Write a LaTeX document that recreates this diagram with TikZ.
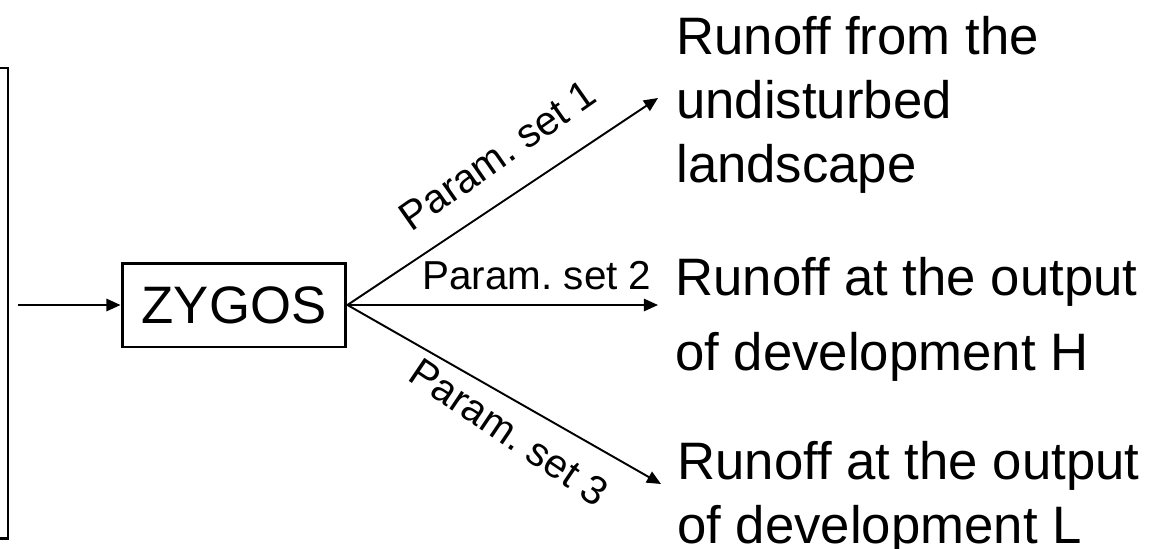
\documentclass[tikz,border=0pt]{standalone}
\usepackage{fontspec}
\setmainfont[Ligatures=NoCommon]{Liberation Sans}
\frenchspacing
\usetikzlibrary{arrows.meta}

\begin{document}
\begin{tikzpicture}[x=0.02cm, y=-0.02cm,
  model/.style={draw, line width=1.7pt, minimum width=4.48cm, minimum height=1.68cm,
    inner sep=0pt, font=\fontsize{30}{36}\selectfont},
  result/.style={anchor=base west, align=left, inner sep=0pt,
    font=\fontsize{30}{36.3}\selectfont},
  param/.style={inner sep=0pt, font=\fontsize{23}{27}\selectfont},
  flow/.style={-{Triangle[length=8pt,width=7pt]}, line width=1.1pt}]
  \useasboundingbox (0,0) rectangle (1162,548);
  % cropped input box on the left
  \draw[line width=1.7pt] (0,68) -- (8,68) -- (8,538) -- (0,538);
  \coordinate (feed) at (18,305);
  \node[model] (zygos) at (234,305) {ZYGOS};
  \coordinate (out1) at (658,98);
  \coordinate (out2) at (658,305);
  \coordinate (out3) at (661,484);
  % anchored at the baseline of the last line
  \node[result] (undist) at (676,182) {Runoff from the\\undisturbed\\landscape};
  \node[result] (devH) at (675,370) {Runoff at the output\\[6pt]of development H};
  \node[result] (devL) at (677,543) {Runoff at the output\\of development L};
  \draw[flow] (feed) -- (zygos);
  \draw[flow] (zygos.east) -- (out1)
    node[param, rotate=35, above, inner ysep=15pt, pos=0.56] (set1) {Param. set 1};
  \draw[flow] (zygos.east) -- (out2)
    node[param, above, inner ysep=8pt, pos=0.61] (set2) {Param. set 2};
  \draw[flow] (zygos.east) -- (out3)
    node[param, rotate=-34, below, inner ysep=8.5pt, pos=0.57] (set3) {Param. set 3};
\end{tikzpicture}
\end{document}
